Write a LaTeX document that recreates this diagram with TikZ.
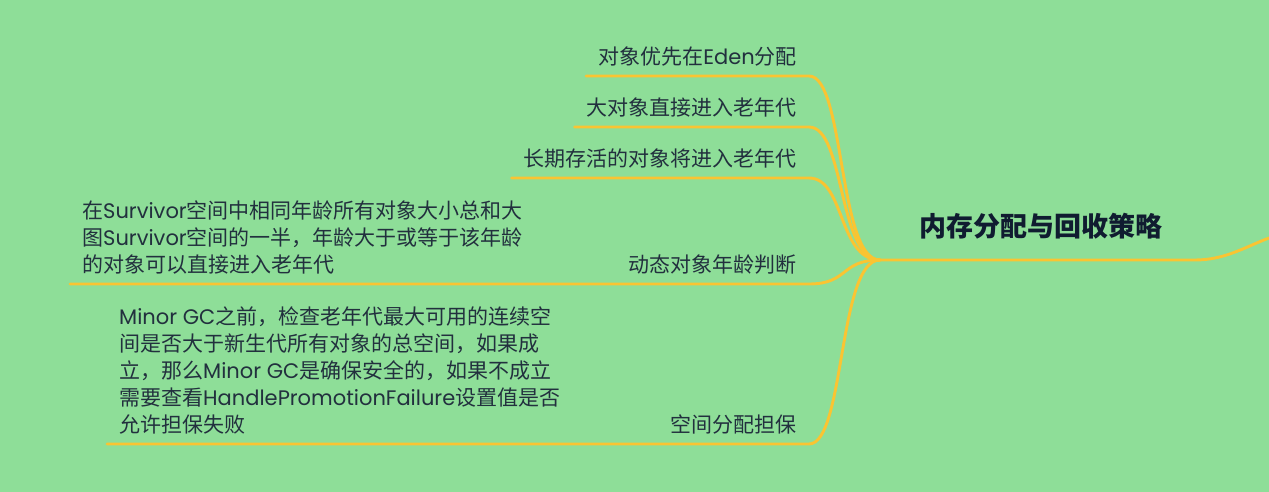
\documentclass[tikz,border=0pt]{standalone}
\usepackage{fontspec}
\setmainfont{Noto Sans CJK SC}
\newfontfamily\latin{Poppins}
\usepackage{xcolor}
\usetikzlibrary{positioning,calc}

\definecolor{mapbg}{RGB}{142,222,152}
\definecolor{mapline}{RGB}{250,196,50}
\definecolor{maptext}{RGB}{34,48,62}
\definecolor{maptitle}{RGB}{16,28,48}

\begin{document}
\begin{tikzpicture}[x=1pt, y=-1pt,
    topic/.style={anchor=south east, inner xsep=12pt, inner ysep=10pt, text height=0.88em, text depth=0.12em, font=\fontsize{21}{27}\selectfont, text=maptext},
    note/.style={anchor=south west, inner xsep=12pt, inner ysep=10pt, text depth=0.12em, align=left, font=\fontsize{21}{27}\selectfont, text=maptext},
    branch/.style={draw=mapline, line width=2.9pt, line cap=round}
]
    \fill[mapbg] (0,0) rectangle (1269,492);
    \useasboundingbox (0,0) rectangle (1269,492);

    % Central topic
    \node[font=\fontsize{27}{30}\selectfont\bfseries, text=maptitle] (root) at (1041,226) {内存分配与回收策略};
    \coordinate (hub) at (880,260);
    \coordinate (tail) at (1269,238);
    \draw[branch] (hub) -- (1195,260) .. controls (1225,260) and (1245,247) .. (tail);

    % Branches
    \node[topic] (eden) at (809,76) {对象优先在{\latin Eden}分配};
    \node[topic] (big) at (809,127) {大对象直接进入老年代};
    \node[topic] (old) at (809,178) {长期存活的对象将进入老年代};
    \node[topic] (age) at (809,284) {动态对象年龄判断};
    \node[note] (agenote) at (70,284) {在{\latin Survivor}空间中相同年龄所有对象大小总和大\\图{\latin Survivor}空间的一半，年龄大于或等于该年龄\\的对象可以直接进入老年代};
    \node[topic] (guard) at (809,444) {空间分配担保};
    \node[note] (guardnote) at (107,444) {{\latin Minor GC}之前，检查老年代最大可用的连续空\\间是否大于新生代所有对象的总空间，如果成\\立，那么{\latin Minor GC}是确保安全的，如果不成立\\需要查看{\latin HandlePromotionFailure}设置值是否\\允许担保失败};

    % Connectors
    \foreach \n in {eden,big,old}
        \draw[branch] (hub) .. controls +(-42,0) and +(36,0) .. (\n.south east) -- (\n.south west);
    \draw[branch] (hub) .. controls +(-40,0) and +(40,0) .. (age.south east) -- (agenote.south west);
    \draw[branch] (hub) .. controls +(-42,0) and +(36,0) .. (guard.south east) -- (guardnote.south west);
\end{tikzpicture}
\end{document}
